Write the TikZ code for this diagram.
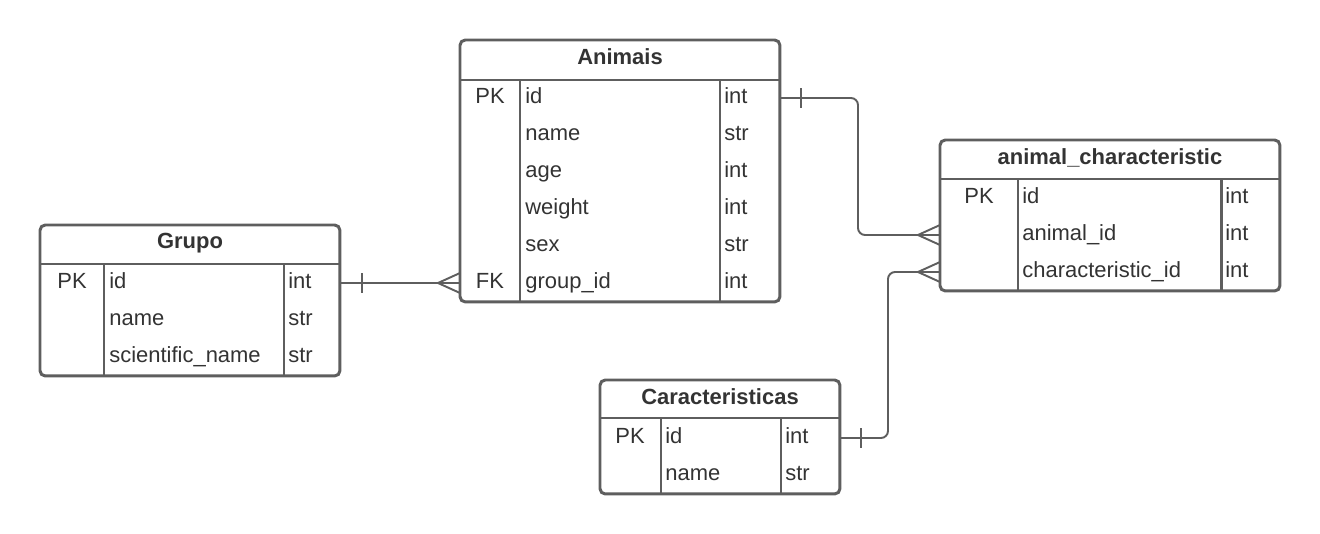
\documentclass[tikz,border=0pt]{standalone}
\usepackage{fontspec}
\setmainfont{Liberation Sans}
\usetikzlibrary{calc}
\definecolor{linegray}{RGB}{94,94,94}
\definecolor{textgray}{RGB}{51,51,51}

\begin{document}
\begin{tikzpicture}[x=0.02cm, y=-0.02cm, linegray,
    erbox/.style={draw, line width=1.7pt, rounded corners=3pt, anchor=north west, inner sep=0pt, outer sep=0pt},
    tabline/.style={line width=1.7pt},
    header/.style={text=textgray, font=\fontsize{12.5}{15}\selectfont\bfseries, inner sep=0pt, text height=9pt, text depth=2.2pt},
    field/.style={text=textgray, font=\fontsize{12.5}{15}\selectfont, anchor=west, inner sep=0pt, text height=9pt, text depth=2.2pt},
    keyfield/.style={field, anchor=center},
    link/.style={line width=1.1pt, rounded corners=4pt}]

    \useasboundingbox (0,0) rectangle (1320,534);

    % Grupo
    \node[erbox, minimum width=6cm, minimum height=3.02cm] (grupo) at (40,225) {};
    \node[header] (grupo-h) at (190,243) {Grupo};
    \draw[tabline] (40,264) -- (340,264);
    \draw[tabline] (104,264) -- (104,376);
    \draw[tabline] (284,264) -- (284,376);
    \foreach \k/\f/\t [count=\i] in {PK/id/int, /name/str, /scientific\_name/str}{
        \node[keyfield] (gru-k\i) at (72,246+37*\i) {\k};
        \node[field] (gru-f\i) at (109,246+37*\i) {\f};
        \node[field] (gru-t\i) at (288,246+37*\i) {\t};
    }

    % Animais
    \node[erbox, minimum width=6.4cm, minimum height=5.24cm] (ani) at (460,40) {};
    \node[header] (ani-h) at (620,59) {Animais};
    \draw[tabline] (460,80) -- (780,80);
    \draw[tabline] (520,80) -- (520,302);
    \draw[tabline] (720,80) -- (720,302);
    \foreach \k/\f/\t [count=\i] in {PK/id/int, /name/str, /age/int, /weight/int, /sex/str, FK/group\_id/int}{
        \node[keyfield] (ani-k\i) at (490,61+37*\i) {\k};
        \node[field] (ani-f\i) at (525,61+37*\i) {\f};
        \node[field] (ani-t\i) at (724,61+37*\i) {\t};
    }

    % animal_characteristic
    \node[erbox, minimum width=6.8cm, minimum height=3.02cm] (achar) at (940,140) {};
    \node[header] (achar-h) at (1110,159) {animal\_characteristic};
    \draw[tabline] (940,179) -- (1280,179);
    \draw[tabline] (1018,179) -- (1018,291);
    \draw[tabline] (1221,179) -- (1221,291);
    \foreach \k/\f/\t [count=\i] in {PK/id/int, /animal\_id/int, /characteristic\_id/int}{
        \node[keyfield] (achar-k\i) at (979,161+37*\i) {\k};
        \node[field] (achar-f\i) at (1022,161+37*\i) {\f};
        \node[field] (achar-t\i) at (1225,161+37*\i) {\t};
    }

    % Caracteristicas
    \node[erbox, minimum width=4.8cm, minimum height=2.28cm] (car) at (600,380) {};
    \node[header] (car-h) at (720,399) {Caracteristicas};
    \draw[tabline] (600,418) -- (840,418);
    \draw[tabline] (661,418) -- (661,494);
    \draw[tabline] (781,418) -- (781,494);
    \foreach \k/\f/\t [count=\i] in {PK/id/int, /name/str}{
        \node[keyfield] (car-k\i) at (630,401+37*\i) {\k};
        \node[field] (car-f\i) at (665,401+37*\i) {\f};
        \node[field] (car-t\i) at (785,401+37*\i) {\t};
    }

    \coordinate (knick1) at (858,0);
    \coordinate (knick2) at (888,0);

    % Grupo -> Animais
    \draw[link] (grupo.east |- gru-f1) -- (ani.west |- gru-f1);
    \draw[link] (grupo.east |- gru-f1) ++(22,-10) -- ++(0,20);
    \draw[link] (ani.west |- gru-f1) ++(-22,0) -- ++(22,-10) ++(-22,10) -- ++(22,10);

    % Animais -> animal_characteristic
    \draw[link] (ani.east |- ani-t1) -| (knick1 |- achar-f2) -- (achar.west |- achar-f2);
    \draw[link] (ani.east |- ani-t1) ++(21,-10) -- ++(0,20);
    \draw[link] (achar.west |- achar-f2) ++(-22,0) -- ++(22,-10) ++(-22,10) -- ++(22,10);

    % Caracteristicas -> animal_characteristic
    \draw[link] (car.east |- car-t1) -| (knick2 |- achar-f3) -- (achar.west |- achar-f3);
    \draw[link] (car.east |- car-t1) ++(21,-10) -- ++(0,20);
    \draw[link] (achar.west |- achar-f3) ++(-22,0) -- ++(22,-10) ++(-22,10) -- ++(22,10);

\end{tikzpicture}
\end{document}
